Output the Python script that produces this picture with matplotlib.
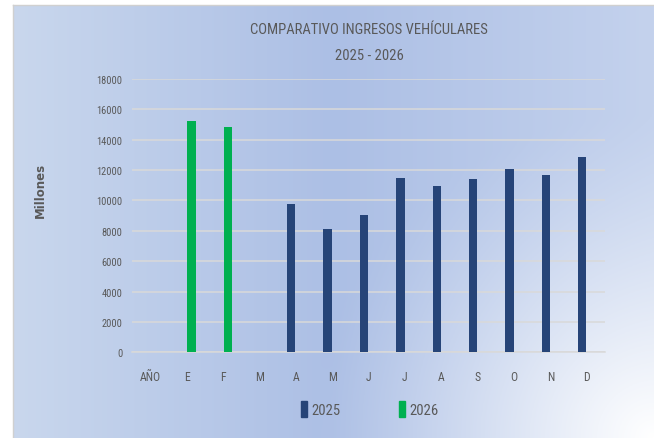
import numpy as np
import matplotlib
matplotlib.use('Agg')
import matplotlib.pyplot as plt
from matplotlib import font_manager as fm
from matplotlib.patches import Patch

# Data
meses = ['AÑO', 'E', 'F', 'M', 'A', 'M', 'J', 'J', 'A', 'S', 'O', 'N', 'D']
ingresos_2025 = [np.nan, np.nan, np.nan, np.nan, 9800, 8150, 9070, 11500, 10970, 11430, 12090, 11700, 12880]
ingresos_2026 = [np.nan, 15250, 14850, np.nan, np.nan, np.nan, np.nan, np.nan, np.nan, np.nan, np.nan, np.nan, np.nan]
y_ticks = [0, 2000, 4000, 6000, 8000, 10000, 12000, 14000, 16000, 18000]

# pick the narrowest installed sans font (the original uses a condensed face)
fonts = fm.fontManager.ttflist
names = {f.name for f in fonts}
narrow = None
for cand in ['Liberation Sans Narrow', 'Roboto Condensed', 'Open Sans Condensed', 'DejaVu Sans Condensed']:
    if cand in names:
        narrow = cand
        break
stretch = 'normal'
if narrow is None:
    cond = [f for f in fonts if 'condensed' in str(f.stretch).lower()]
    if cond:
        narrow = cond[0].name
        stretch = cond[0].stretch
    else:
        narrow = 'DejaVu Sans'
plt.rcParams['font.family'] = [narrow, 'DejaVu Sans']
plt.rcParams['font.stretch'] = stretch
gray_text = '#595959'

fig = plt.figure(figsize=(6.54, 4.39), dpi=100)
fig.patch.set_facecolor('white')

# Gradient background of the chart area
bg = fig.add_axes([13 / 654, 0, 1 - 13 / 654, (439 - 6) / 439])
h, w = 200, 300
xx, yy = np.meshgrid(np.linspace(0, 1, w), np.linspace(0, 1, h))
stops = [0.0, 0.5, 1.0]
cols = np.array([[201, 215, 237], [172, 191, 229], [196, 210, 237]]) / 255
img = np.zeros((h, w, 3))
for k in range(3):
    img[..., k] = np.interp(xx, stops, cols[:, k])
dist = np.sqrt(((1 - xx) * 1.4) ** 2 + (1 - yy) ** 2)
wt = np.clip(1 - dist / 0.75, 0, 1) ** 1.3
img = img * (1 - wt[..., None]) + wt[..., None]
bg.imshow(img, aspect='auto', extent=[0, 1, 0, 1], origin='upper')
bg.set_xticks([])
bg.set_yticks([])
for side in ['right', 'bottom']:
    bg.spines[side].set_visible(False)
for side in ['top', 'left']:
    bg.spines[side].set_color('#d0d0d0')
    bg.spines[side].set_linewidth(1.0)

ax = fig.add_axes([132 / 654, (439 - 353.3) / 439, 473 / 654, 273.3 / 439])
ax.set_facecolor('none')

x = np.arange(len(meses))
bar_w = 0.23
ax.bar(x - 0.125, ingresos_2025, width=bar_w, color='#264478', label='2025', zorder=3)
ax.bar(x + 0.14, ingresos_2026, width=bar_w, color='#00b050', label='2026', zorder=3)

ax.set_xlim(-0.5, len(meses) - 0.5)
ax.set_ylim(0, 18000)
ax.set_yticks(y_ticks)
ax.set_yticklabels([str(v) for v in y_ticks], fontsize=7.5, color=gray_text)
ax.set_xticks(x)
ax.set_xticklabels(meses, fontsize=8.5, color=gray_text)
ax.tick_params(axis='y', length=0, pad=7)
ax.tick_params(axis='x', length=0, pad=13)
ax.grid(axis='y', color='#d9d9d9', linewidth=1.1, zorder=0)
for side in ['top', 'right', 'left']:
    ax.spines[side].set_visible(False)
ax.spines['bottom'].set_color('#d9d9d9')
ax.spines['bottom'].set_linewidth(1.1)

fig.text(40 / 654, 1 - 190 / 439, 'Millones', rotation=90, ha='center', va='center',
         fontsize=8.5, fontweight='bold', color=gray_text, family='DejaVu Sans', fontstretch='normal')

fig.text(369 / 654, 1 - 30 / 439, 'COMPARATIVO INGRESOS VEHÍCULARES', ha='center', va='center',
         fontsize=10.5, color=gray_text)
fig.text(369 / 654, 1 - 56 / 439, '2025 - 2026', ha='center', va='center',
         fontsize=10.5, color=gray_text)

handles = [Patch(color='#264478'), Patch(color='#00b050')]
fig.legend(handles, ['2025', '2026'], loc='center', bbox_to_anchor=(370 / 654, 1 - 410 / 439),
           ncol=2, frameon=False, fontsize=10.5, labelcolor=gray_text,
           handlelength=0.4, handleheight=1.3, handletextpad=0.3, columnspacing=4.0)

fig.savefig('out.png', dpi=100)
